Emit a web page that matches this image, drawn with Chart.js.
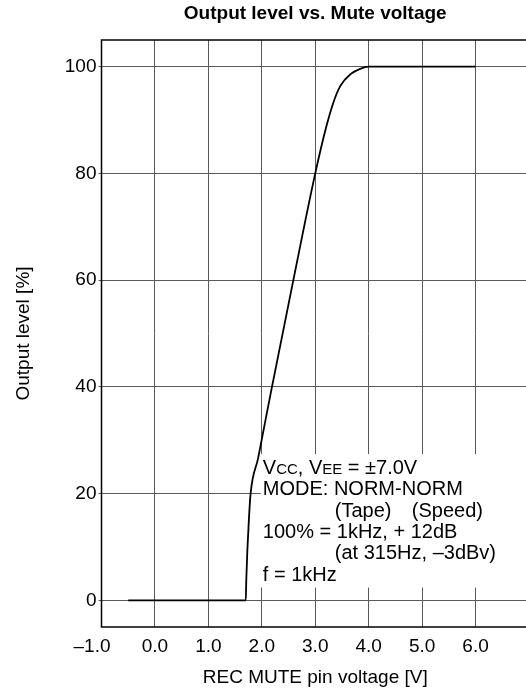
<!DOCTYPE html>
<html>
<head>
<meta charset="utf-8">
<script src="https://cdn.jsdelivr.net/npm/chart.js@4/dist/chart.umd.min.js"></script>
<style>
  html, body { margin: 0; padding: 0; background: #fff; overflow: hidden; }
  #wrap { width: 540px; height: 696px; }
</style>
</head>
<body>
<div id="wrap"><canvas id="myChart" width="540" height="696"></canvas></div>
<script>
// REC MUTE pin voltage [V] and output level [%]
const voltage = [-0.5, 1.7, 1.71, 1.73, 1.76, 1.79, 1.93, 2.0, 2.19, 2.59, 3.0, 3.2, 3.34, 3.47, 3.66, 3.84, 4.0, 6.0];
const level   = [0, 0, 4, 9.5, 15.5, 20, 26.6, 30.2, 40, 60, 80, 88.5, 93.3, 96.4, 98.6, 99.6, 100, 100];

const xTicks = [-1, 0, 1, 2, 3, 4, 5, 6, 7];
const yTicks = [0, 20, 40, 60, 80, 100];

const chartTitle = 'Output level vs. Mute voltage';
const xTitle = 'REC MUTE pin voltage [V]';
const yTitle = 'Output level [%]';

const FONT = '"Liberation Sans", Arial, Helvetica, sans-serif';
const gridColor = '#5a5a5a';

// frame, title and the conditions note
const decor = {
	id: 'decor',
	afterDatasetsDraw(chart) {
		const ctx = chart.ctx;
		const a = chart.chartArea;
		const xs = chart.scales.x, ys = chart.scales.y;

		// white box behind the note
		const bx = xs.getPixelForValue(2) - 1;
		const by = ys.getPixelForValue(27.4);
		const bb = ys.getPixelForValue(2.4);
		ctx.save();
		ctx.fillStyle = '#fff';
		ctx.fillRect(bx, by, a.right - bx - 1, bb - by);

		ctx.fillStyle = '#000';
		ctx.textBaseline = 'alphabetic';
		ctx.textAlign = 'left';
		const tx = bx + 2;
		const x2 = tx + 72;
		let y = 474;
		const step = 21.3;
		const big = '20px ' + FONT, small = '15px ' + FONT;
		// Vcc, Vee line with small caps
		let cx = tx;
		[['V', big], ['CC', small], [', V', big], ['EE', small], [' = \u00b17.0V', big]].forEach(function(p) {
			ctx.font = p[1];
			ctx.fillText(p[0], cx, y);
			cx += ctx.measureText(p[0]).width;
		});
		ctx.font = big;
		y += step; ctx.fillText('MODE: NORM-NORM', tx, y);
		y += step; ctx.fillText('(Tape)', x2, y); ctx.fillText('(Speed)', tx + 149, y);
		y += step; ctx.fillText('100% = 1kHz, + 12dB', tx, y);
		y += step; ctx.fillText('(at 315Hz, \u20133dBv)', x2, y);
		y += step; ctx.fillText('f = 1kHz', tx, y);

		// frame
		ctx.strokeStyle = '#000';
		ctx.lineWidth = 1.5;
		ctx.strokeRect(a.left, a.top, a.right - a.left, a.bottom - a.top);

		// title centred over the plot
		ctx.font = 'bold 19px ' + FONT;
		ctx.textAlign = 'center';
		ctx.textBaseline = 'middle';
		ctx.fillText(chartTitle, (a.left + a.right) / 2, 14);
		ctx.restore();
	}
};

const points = voltage.map(function(v, i) { return { x: v, y: level[i] }; });

const ctx = document.getElementById('myChart').getContext('2d');
const chart = new Chart(ctx, {
	type: 'line',
	data: {
		datasets: [{
			data: points,
			borderColor: '#000',
			borderWidth: 1.8,
			pointRadius: 0,
			fill: false,
			tension: 0.4,
			cubicInterpolationMode: 'monotone'
		}]
	},
	options: {
		responsive: false,
		animation: false,
		layout: { padding: { top: 40, right: 11, left: 0, bottom: 0 } },
		plugins: {
			legend: { display: false },
			title: { display: false },
			tooltip: { enabled: false }
		},
		scales: {
			x: {
				type: 'linear',
				min: -1,
				max: 7,
				afterBuildTicks: function(s) { s.ticks = xTicks.map(function(v) { return { value: v }; }); },
				afterFit: function(s) { s.height = 69; },
				grid: { color: gridColor, lineWidth: 1, drawTicks: false },
				border: { display: false },
				ticks: {
					color: '#000',
					padding: 8,
					maxRotation: 0,
					autoSkip: false,
					font: { family: FONT, size: 19 },
					callback: function(v) {
						if (v === 7) return '';
						// the minus hangs left of the tick in the original
						return (v < 0 ? '\u2013' + Math.abs(v).toFixed(1) + '\u2003' : v.toFixed(1));
					}
				},
				title: {
					display: true,
					text: xTitle,
					color: '#000',
					font: { family: FONT, size: 19 },
					padding: { top: 0, bottom: 7 }
				}
			},
			y: {
				type: 'linear',
				min: -5,
				max: 105,
				afterBuildTicks: function(s) { s.ticks = yTicks.map(function(v) { return { value: v }; }); },
				afterFit: function(s) { s.width = 101.5; },
				grid: { color: gridColor, lineWidth: 1, drawTicks: true, tickLength: 3 },
				border: { display: false },
				ticks: {
					color: '#000',
					padding: 2,
					autoSkip: false,
					font: { family: FONT, size: 19 },
					callback: function(v) { return String(v); }
				},
				title: {
					display: true,
					text: yTitle,
					color: '#000',
					font: { family: FONT, size: 19 },
					padding: { top: 12.5, bottom: 0 }
				}
			}
		}
	},
	plugins: [decor]
});
</script>
</body>
</html>
